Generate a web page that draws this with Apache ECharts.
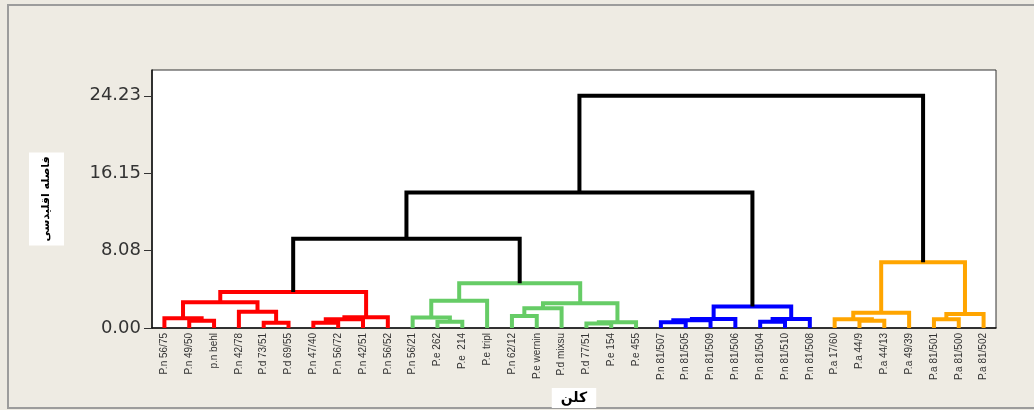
<!DOCTYPE html>
<html>
<head>
<meta charset="utf-8">
<script src="https://cdn.jsdelivr.net/npm/echarts@6/dist/echarts.min.js"></script>
<style>
  html, body { margin: 0; padding: 0; background: #EDEAE2; }
  #chart { width: 1034px; height: 410px; }
</style>
</head>
<body>
<div id="chart"></div>
<script>
// Leaves of the dendrogram, left to right
const leafNames = [
  'P.n 56/75', 'P.n 49/50', 'p.n behl', 'P.n 42/78', 'P.d 73/51', 'P.d 69/55',
  'P.n 47/40', 'P.n 56/72', 'P.n 42/51', 'P.n 56/52',
  'P.n 56/21', 'P.e 262', 'P.e  214', 'P.e tripl', 'P.n 62/12', 'P.e wernin',
  'P.d mixsu', 'P.d 77/51', 'P.e 154', 'P.e 455',
  'P.n 81/507', 'P.n 81/505', 'P.n 81/509', 'P.n 81/506', 'P.n 81/504',
  'P.n 81/510', 'P.n 81/508',
  'P.a 17/60', 'P.a 44/9', 'P.a 44/13', 'P.a 49/39', 'P.a 81/501',
  'P.a 81/500', 'P.a 81/502'
];

// Cluster each leaf belongs to (0..3)
const leafGroup = [
  0, 0, 0, 0, 0, 0, 0, 0, 0, 0,
  1, 1, 1, 1, 1, 1, 1, 1, 1, 1,
  2, 2, 2, 2, 2, 2, 2,
  3, 3, 3, 3, 3, 3, 3
];

// Linkage: [node a, node b, distance]; leaves are 0..33, merge k gets id 34 + k
const merges = [
  [1, 2, 0.76], [0, 34, 1.01], [4, 5, 0.55], [3, 36, 1.70], [35, 37, 2.68],
  [6, 7, 0.55], [39, 8, 0.90], [40, 9, 1.12], [38, 41, 3.75],
  [11, 12, 0.66], [10, 43, 1.10], [44, 13, 2.85], [14, 15, 1.25], [46, 16, 2.05],
  [17, 18, 0.47], [48, 19, 0.60], [47, 49, 2.58], [45, 50, 4.67],
  [20, 21, 0.60], [52, 22, 0.80], [53, 23, 0.95], [24, 25, 0.66], [55, 26, 0.94],
  [54, 56, 2.25],
  [28, 29, 0.76], [27, 58, 0.90], [59, 30, 1.60], [31, 32, 0.90], [61, 33, 1.46],
  [60, 62, 6.86],
  [42, 51, 9.30], [64, 57, 14.13], [65, 63, 24.23]
];

const yTicks = [0, 8.08, 16.15, 24.23];
const yMax = 26.92;

const groupColors = ['#FF0000', '#66CC66', '#0000FF', '#FFA500'];
const linkColor = '#000000';

// Position each node: leaves at their index, merges midway between children
const nodeX = leafNames.map((_, i) => i);
const nodeH = leafNames.map(() => 0);
const nodeGroup = leafGroup.slice();
const links = [];
merges.forEach(([a, b, h]) => {
  const g = nodeGroup[a] === nodeGroup[b] ? nodeGroup[a] : -1;
  links.push([nodeX[a], nodeH[a], nodeX[b], nodeH[b], h, g]);
  nodeX.push((nodeX[a] + nodeX[b]) / 2);
  nodeH.push(h);
  nodeGroup.push(g);
});

const chart = echarts.init(document.getElementById('chart'));

chart.setOption({
  backgroundColor: '#EDEAE2',
  animation: false,
  graphic: [{
    type: 'rect',
    left: 7, top: 4,
    shape: { width: 1040, height: 403 },
    style: { fill: '#EEEBE3', stroke: '#9C9C9C', lineWidth: 2 },
    z: -10
  }],
  grid: {
    left: 152, right: 38, top: 70, bottom: 82,
    show: true,
    backgroundColor: '#FFFFFF',
    borderColor: '#333333',
    borderWidth: 1,
    outerBoundsMode: 'none'
  },
  xAxis: [{
    type: 'category',
    data: leafNames,
    boundaryGap: true,
    name: 'کلن',
    nameLocation: 'middle',
    nameGap: 56,
    nameTextStyle: {
      fontFamily: 'DejaVu Sans', fontSize: 14, fontWeight: 'bold', color: '#000',
      backgroundColor: '#FFFFFF', padding: [3, 9]
    },
    axisLine: { onZero: false, lineStyle: { color: '#111', width: 1.5 } },
    axisTick: { alignWithLabel: true, length: 4, lineStyle: { color: '#111' } },
    axisLabel: {
      interval: 0, rotate: 90, margin: 5,
      fontFamily: 'Liberation Sans', fontSize: 10, color: '#333'
    },
    splitLine: { show: false }
  }, {
    type: 'value',
    min: -0.5,
    max: leafNames.length - 0.5,
    show: false
  }],
  yAxis: {
    type: 'value',
    min: 0,
    max: yMax,
    name: 'فاصله اقلیدسی',
    nameLocation: 'middle',
    nameRotate: 90,
    nameGap: 88,
    nameTextStyle: {
      fontFamily: 'DejaVu Sans', fontSize: 11, fontWeight: 'bold', color: '#000',
      backgroundColor: '#FFFFFF', padding: [12, 4]
    },
    axisLine: { show: true, onZero: false, lineStyle: { color: '#111', width: 1.5 } },
    axisTick: { show: true, length: 8, customValues: yTicks, lineStyle: { color: '#333' } },
    axisLabel: {
      customValues: yTicks,
      margin: 11,
      fontFamily: 'DejaVu Sans', fontSize: 18, color: '#333',
      formatter: v => v.toFixed(2)
    },
    splitLine: { show: false }
  },
  series: [{
    type: 'custom',
    xAxisIndex: 1,
    yAxisIndex: 0,
    clip: false,
    data: links,
    encode: { x: [0, 2], y: [1, 3, 4] },
    renderItem(params, api) {
      const xa = api.value(0), ha = api.value(1);
      const xb = api.value(2), hb = api.value(3);
      const h = api.value(4), g = api.value(5);
      return {
        type: 'polyline',
        shape: {
          points: [
            api.coord([xa, ha]), api.coord([xa, h]),
            api.coord([xb, h]), api.coord([xb, hb])
          ]
        },
        style: {
          stroke: g < 0 ? linkColor : groupColors[g],
          lineWidth: 4,
          fill: null,
          lineJoin: 'miter'
        }
      };
    }
  }]
});
</script>
</body>
</html>
